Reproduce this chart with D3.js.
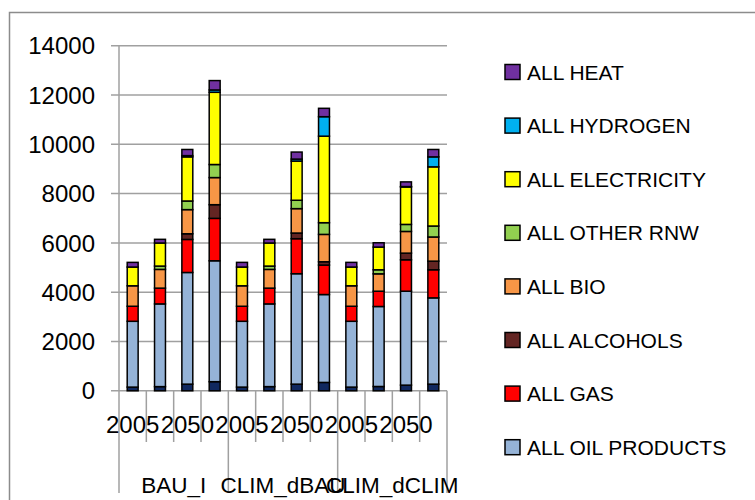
<!DOCTYPE html>
<html>
<head>
<meta charset="utf-8">
<script src="https://cdn.jsdelivr.net/npm/d3@7"></script>
<style>
  body { margin: 0; background: #fff; }
  text { font-family: "Liberation Sans", Arial, sans-serif; fill: #000; }
</style>
</head>
<body>
<div id="chart"></div>
<script>
// categories: 3 scenarios x 4 years
var scenarios = ['BAU_I', 'CLIM_dBAU', 'CLIM_dCLIM'];
var years = ['2005', '2020', '2050', '2070'];

// series, bottom to top of the stack
var seriesNames = ['ALL COAL', 'ALL OIL PRODUCTS', 'ALL GAS', 'ALL ALCOHOLS', 'ALL BIO',
    'ALL OTHER RNW', 'ALL ELECTRICITY', 'ALL HYDROGEN', 'ALL HEAT'];
var seriesColors = ['#10285f', '#95b3d7', '#ff0000', '#632523', '#f79646',
    '#92d050', '#ffff00', '#00b0f0', '#7030a0'];

var coal      = [150, 170, 270, 370,  150, 170, 270, 340,  150, 175, 230, 270];
var oil       = [2670, 3355, 4530, 4905,  2670, 3355, 4480, 3565,  2670, 3245, 3810, 3500];
var gas       = [610, 640, 1340, 1720,  610, 640, 1420, 1195,  610, 620, 1275, 1140];
var alcohols  = [0, 0, 230, 555,  0, 0, 230, 135,  0, 0, 270, 350];
var bio       = [830, 760, 980, 1100,  830, 760, 990, 1110,  830, 705, 880, 980];
var otherRnw  = [0, 135, 350, 530,  0, 135, 340, 475,  0, 165, 285, 445];
var elec      = [760, 935, 1790, 2930,  760, 935, 1590, 3510,  760, 920, 1520, 2400];
var hydrogen  = [0, 0, 50, 95,  0, 0, 80, 790,  0, 0, 15, 405];
var heat      = [190, 150, 250, 380,  190, 150, 285, 340,  190, 175, 190, 300];

var yTicks = [0, 2000, 4000, 6000, 8000, 10000, 12000, 14000];

var seriesValues = [coal, oil, gas, alcohols, bio, otherRnw, elec, hydrogen, heat];

// build rows for d3.stack
var rows = [];
scenarios.forEach(function (s, si) {
    years.forEach(function (yr, yi) {
        var i = si * years.length + yi;
        var row = { id: s + '|' + yr, scenario: s, year: yr, idx: i };
        seriesNames.forEach(function (n, k) { row[n] = seriesValues[k][i]; });
        rows.push(row);
    });
});

var width = 755, height = 500;
var svg = d3.select('#chart').append('svg')
    .attr('width', width)
    .attr('height', height);

// outer chart border (runs off right and bottom edge)
svg.append('path')
    .attr('d', 'M9.5,' + (height + 2) + 'V12.5H' + (width + 2))
    .attr('fill', 'none')
    .attr('stroke', '#8c8c8c')
    .attr('stroke-width', 1.5);

var plotL = 119, plotR = 447, plotT = 45.7, plotB = 390.8;

var x = d3.scaleBand()
    .domain(rows.map(function (d) { return d.id; }))
    .range([plotL, plotR])
    .paddingInner(0.6)
    .paddingOuter(0.3);

var y = d3.scaleLinear()
    .domain([0, 14000])
    .range([plotB, plotT]);

var gray = '#a0a0a0';

// gridlines + y ticks
svg.append('g').selectAll('line')
    .data(yTicks.filter(function (t) { return t > 0; }))
    .enter().append('line')
    .attr('x1', plotL - 8).attr('x2', plotR)
    .attr('y1', function (d) { return y(d); })
    .attr('y2', function (d) { return y(d); })
    .attr('stroke', gray).attr('stroke-width', 1.5);

svg.append('g').selectAll('text')
    .data(yTicks)
    .enter().append('text')
    .attr('x', 95)
    .attr('y', function (d) { return y(d); })
    .attr('dy', '0.36em')
    .attr('text-anchor', 'end')
    .style('font-size', '24px')
    .text(function (d) { return d; });

// axis lines
svg.append('line')
    .attr('x1', plotL).attr('x2', plotL)
    .attr('y1', plotT).attr('y2', plotB)
    .attr('stroke', gray).attr('stroke-width', 1.5);

// category tick marks; scenario boundaries run longer
var step = x.step();
var tickIdx = d3.range(rows.length + 1);
svg.append('g').selectAll('line')
    .data(tickIdx)
    .enter().append('line')
    .attr('x1', function (i) { return plotL + i * step; })
    .attr('x2', function (i) { return plotL + i * step; })
    .attr('y1', plotB)
    .attr('y2', function (i) { return i % years.length === 0 ? 493 : 442; })
    .attr('stroke', gray).attr('stroke-width', 1.5);

svg.append('line')
    .attr('x1', plotL - 8).attr('x2', plotR)
    .attr('y1', plotB).attr('y2', plotB)
    .attr('stroke', gray).attr('stroke-width', 1.5);

// stacked bars
var stack = d3.stack().keys(seriesNames);
var layers = stack(rows);

var layerG = svg.append('g').selectAll('g.layer')
    .data(layers)
    .enter().append('g')
    .attr('class', 'layer')
    .attr('fill', function (d, i) { return seriesColors[i]; });

layerG.selectAll('rect')
    .data(function (d) { return d; })
    .enter().append('rect')
    .attr('x', function (d) { return x(d.data.id); })
    .attr('width', x.bandwidth())
    .attr('y', function (d) { return y(d[1]); })
    .attr('height', function (d) { return y(d[0]) - y(d[1]); })
    .attr('stroke', '#000')
    .attr('stroke-width', 1.5);

// year labels (every other one shown, as in the original)
svg.append('g').selectAll('text')
    .data(rows.filter(function (d) { return d.idx % 2 === 0; }))
    .enter().append('text')
    .attr('x', function (d) { return x(d.data ? d.data.id : d.id) + x.bandwidth() / 2; })
    .attr('y', 433)
    .attr('text-anchor', 'middle')
    .style('font-size', '24px')
    .text(function (d) { return d.year; });

// scenario labels
svg.append('g').selectAll('text')
    .data(scenarios)
    .enter().append('text')
    .attr('x', function (d, i) { return plotL + (i + 0.5) * step * years.length; })
    .attr('y', 493)
    .attr('text-anchor', 'middle')
    .style('font-size', '22.5px')
    .text(function (d) { return d; });

// legend: top entry is the top of the stack; the coal entry doesn't fit
var legendItems = seriesNames.map(function (n, i) { return { name: n, color: seriesColors[i] }; })
    .slice(1).reverse();

var legend = svg.append('g').selectAll('g')
    .data(legendItems)
    .enter().append('g')
    .attr('transform', function (d, i) { return 'translate(505,' + (72 + i * 53.6) + ')'; });

legend.append('rect')
    .attr('x', 0).attr('y', -7.5)
    .attr('width', 15).attr('height', 15)
    .attr('fill', function (d) { return d.color; })
    .attr('stroke', '#000')
    .attr('stroke-width', 1.5);

legend.append('text')
    .attr('x', 22)
    .attr('y', 0)
    .attr('dy', '0.36em')
    .style('font-size', '21px')
    .text(function (d) { return d.name; });
</script>
</body>
</html>
